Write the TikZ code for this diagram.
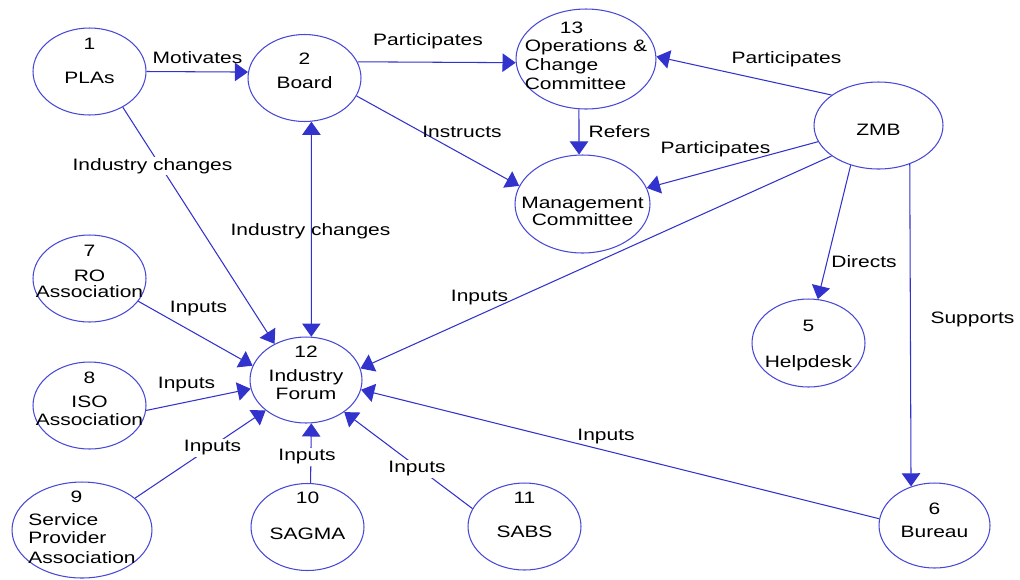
\documentclass[tikz,border=0pt]{standalone}
\usepackage{fontspec}
\setmainfont{Liberation Sans}[FakeStretch=1.27]
\usepackage{xcolor}
\usepackage{tikz}
\usetikzlibrary{shapes.geometric,arrows.meta}

\definecolor{ellblue}{RGB}{72,72,214}
\definecolor{arrblue}{RGB}{50,50,204}

\newcommand{\bub}[2][0pt]{\raisebox{#1}[0pt][0pt]{\makebox[0pt]{\begin{tabular}{@{}c@{}}#2\end{tabular}}}}
\newcommand{\bubl}[2][0pt]{\raisebox{#1}[0pt][0pt]{\makebox[0pt]{\begin{tabular}{@{}l@{}}#2\end{tabular}}}}

\begin{document}
\begin{tikzpicture}[x=0.02cm, y=-0.02cm, font=\fontsize{9.4}{11}\selectfont,
  >={Triangle[length=7.5pt,width=10.5pt]},
  proc/.style={ellipse, draw=ellblue, line width=0.6pt, inner sep=0pt, minimum width=2.26cm, minimum height=1.74cm},
  flow/.style={draw=arrblue, line width=0.6pt, ->},
  lbl/.style={inner sep=1pt},
  lblw/.style={lbl, fill=white}]
\useasboundingbox (0,0) rectangle (1020,579);

\node[proc] (plas) at (89.5,71.5) {\bub[2.8pt]{1\\[8.1pt]PLAs}};
\node[proc] (brd) at (304.5,78) {\bub[0.6pt]{2\\[2.7pt]Board}};
\node[proc, minimum width=2.8cm, minimum height=2cm] (ops) at (586,59) {\bubl[-1.5pt]{\hspace*{20pt}13\\[-1pt]Operations \&\\Change\\Committee}};
\node[proc, minimum width=2.7cm, minimum height=1.96cm] (mc) at (582.5,204) {\bub[-7.3pt]{Management\\[-1.3pt]Committee}};
\node[proc, minimum width=2.58cm] (zmb) at (878.5,125.5) {\bub[-5.9pt]{ZMB}};
\node[proc] (ro) at (89.5,278.5) {\bub[0.8pt]{7\\[3.2pt]RO\\[-2.4pt]Association}};
\node[proc] (iso) at (89.5,405.5) {\bub[0.35pt]{8\\[2.7pt]ISO\\[-0.7pt]Association}};
\node[proc, minimum width=2.8cm, minimum height=1.92cm] (sp) at (82,530) {\bubl[-1.65pt]{\hspace*{24pt}9\\[2.1pt]Service\\[-0.7pt]Provider\\Association}};
\node[proc, minimum width=2.24cm, minimum height=1.72cm] (if) at (306,380) {\bub[0.9pt]{12\\[3pt]Industry\\[-1pt]Forum}};
\node[proc] (sg) at (307.5,527) {\bub[3.05pt]{10\\[9.2pt]SAGMA}};
\node[proc] (sb) at (524.5,526.5) {\bub[3.2pt]{11\\[8.4pt]SABS}};
\node[proc, minimum height=1.76cm] (hd) at (808.5,343) {\bub[-3.9pt]{5\\[9.5pt]Helpdesk}};
\node[proc, minimum width=2.22cm, minimum height=1.7cm] (bu) at (934.5,525.5) {\bub[-0.35pt]{6\\[1.8pt]Bureau}};

\draw[flow] (plas.east) -- (brd.174);
\draw[flow] (brd.17) -- (ops.183);
\draw[flow] (brd.341) -- (mc.164);
\draw[flow] (ops.262) -- (mc.94);
\draw[flow] (zmb.147) -- (ops.2);
\draw[flow] (zmb.195) -- (mc.14);
\draw[flow] (zmb.213) -- (if.12);
\draw[flow] (zmb.235) -- (hd.78);
\draw[flow] (zmb.309) -- (bu.121);
\draw[flow] (plas.313) -- (if.131);
\draw[flow, <->] (brd.279) -- (if.83);
\draw[flow] (ro.335) -- (if.165);
\draw[flow] (iso.355) -- (if.189);
\draw[flow] (sp.31) -- (if.217);
\draw[flow] (sg.86) -- (if.277);
\draw[flow] (sb.161) -- (if.320);
\draw[flow] (bu.173) -- (if.350);

\node[lbl] (lmot) at (197.5,58) {Motivates};
\node[lbl] (lpart1) at (428,41.5) {Participates};
\node[lbl] (linst) at (462,131.5) {Instructs};
\node[lbl] (lref) at (619.5,131.5) {Refers};
\node[lbl] (lpart2) at (786.5,59.5) {Participates};
\node[lbl] (lpart3) at (715.5,149.5) {Participates};
\node[lbl] (linzmb) at (479.5,297.5) {Inputs};
\node[lbl] (ldir) at (864,261.5) {Directs};
\node[lbl] (lsup) at (972.5,319.5) {Supports};
\node[lblw] (lind1) at (152.5,166) {Industry changes};
\node[lbl] (lind2) at (310.5,231.5) {Industry changes};
\node[lbl] (linro) at (198.5,308.5) {Inputs};
\node[lbl] (liniso) at (186.5,385) {Inputs};
\node[lblw] (linsp) at (212.5,448) {Inputs};
\node[lblw] (linsg) at (307,457) {Inputs};
\node[lblw] (linsb) at (417,469) {Inputs};
\node[lbl] (linbu) at (606,436.5) {Inputs};
\end{tikzpicture}
\end{document}
